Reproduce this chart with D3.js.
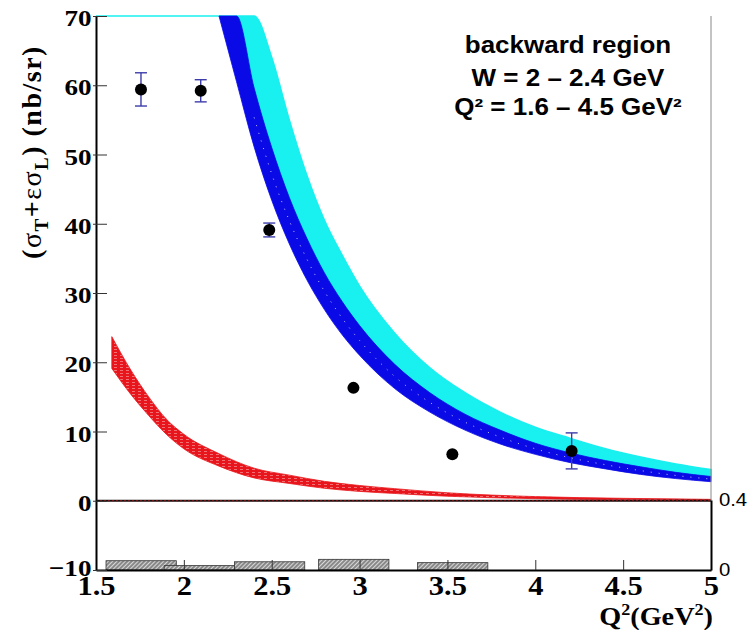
<!DOCTYPE html>
<html>
<head>
<meta charset="utf-8">
<script src="https://cdn.jsdelivr.net/npm/d3@7"></script>
<style>
  body { margin: 0; background: #fff; }
  svg { display: block; }
</style>
</head>
<body>
<svg id="chart" width="749" height="630"></svg>
<script>
// measured cross sections
const q2Points = [1.756, 2.096, 2.486, 2.965, 3.528, 4.207];
const xsecPoints = [59.4, 59.2, 39.1, 16.3, 6.7, 7.2];
const xsecErrors = [2.4, 1.6, 1.0, 0.4, 0.4, 2.6];

// systematic uncertainties (right-hand scale)
const sysQ2 = [1.757, 2.088, 2.488, 2.967, 3.53];
const sysValues = [0.053, 0.025, 0.047, 0.061, 0.042];
const sysHalfWidth = 0.2;

// model bands (blue / cyan)
const bandQ2 = [1.5, 1.7, 1.9, 2.1, 2.2, 2.3, 2.4, 2.5, 2.6, 2.7, 2.8, 2.9, 3.0, 3.2, 3.4, 3.6, 3.8, 4.0, 4.2, 4.4, 4.6, 4.8, 5.0];
const blueLow = [null, null, null, null, 72.2, 60.5, 51.1, 43.4, 37.1, 31.9, 27.6, 24.0, 21.0, 16.2, 12.8, 10.2, 8.2, 6.7, 5.5, 4.6, 3.8, 3.2, 2.75];
const blueHigh = [null, null, null, null, 83.3, 70.1, 59.6, 51.0, 43.8, 37.9, 32.9, 28.8, 25.3, 19.7, 15.6, 12.5, 10.2, 8.3, 6.9, 5.8, 4.9, 4.1, 3.5];
const cyanLow = [290, 180, 120, 95, 83.3, 70.1, 59.6, 51.0, 43.8, 37.9, 32.9, 28.8, 25.3, 19.7, 15.6, 12.5, 10.2, 8.3, 6.9, 5.8, 4.9, 4.1, 3.5];
const cyanHigh = [380, 235, 155, 108, 92, 80, 72.3, 64, 55, 47, 40.5, 35.5, 31.0, 24.2, 19.2, 15.6, 12.8, 10.6, 9.0, 7.5, 6.3, 5.3, 4.5];

// red band
const redQ2 = [1.59, 1.7, 1.8, 1.9, 2.0, 2.2, 2.4, 2.6, 2.8, 3.0, 3.2, 3.5, 4.0, 4.5, 5.0];
const redLow = [19.1, 15.3, 12.3, 9.6, 7.5, 5.0, 3.3, 2.5, 1.8, 1.35, 1.05, 0.65, 0.3, 0.15, 0.08];
const redHigh = [23.7, 18.8, 15.0, 11.8, 9.6, 6.8, 4.7, 3.7, 2.8, 2.2, 1.75, 1.15, 0.6, 0.35, 0.2];

// axes
const xTicks = [1.5, 2, 2.5, 3, 3.5, 4, 4.5, 5];
const yTicks = [-10, 0, 10, 20, 30, 40, 50, 60, 70];
const rightTicks = [0, 0.4];

const serif = "'Liberation Serif', 'Times New Roman', serif";
const sans = "'Liberation Sans', Arial, sans-serif";
const stretch = "scale(1.13,1)";

const svg = d3.select("#chart");

const x = d3.scaleLinear().domain([1.5, 5]).range([96, 711]);
const y = d3.scaleLinear().domain([-10, 70]).range([570, 16]);
const yR = d3.scaleLinear().domain([0, 0.4]).range([570, 500]);
const clampY = v => y(Math.max(-10, Math.min(70, v)));

// patterns
const defs = svg.append("defs");
const redPat = defs.append("pattern")
  .attr("id", "redHatch").attr("patternUnits", "userSpaceOnUse")
  .attr("width", 6).attr("height", 3);
redPat.append("rect").attr("width", 6).attr("height", 3).attr("fill", "#e8161c");
redPat.append("line").attr("x1", 0).attr("x2", 3).attr("y1", 1.5).attr("y2", 1.5)
  .attr("stroke", "#fff").attr("stroke-width", 0.7).attr("opacity", 0.55);

const grayPat = defs.append("pattern")
  .attr("id", "grayHatch").attr("patternUnits", "userSpaceOnUse")
  .attr("width", 3).attr("height", 3).attr("patternTransform", "rotate(45)");
grayPat.append("rect").attr("width", 3).attr("height", 3).attr("fill", "#d8d8d8");
grayPat.append("line").attr("x1", 1).attr("x2", 1).attr("y1", 0).attr("y2", 3)
  .attr("stroke", "#555").attr("stroke-width", 1.2);

// band helper
const band = (xs, lo, hi) => d3.area()
  .defined((d, i) => lo[i] != null)
  .x((d, i) => x(xs[i]))
  .y0((d, i) => clampY(lo[i]))
  .y1((d, i) => clampY(hi[i]))
  .curve(d3.curveMonotoneX);

// red band
svg.append("path")
  .datum(redQ2)
  .attr("d", band(redQ2, redLow, redHigh))
  .attr("fill", "url(#redHatch)")
  .attr("stroke", "#e8161c").attr("stroke-width", 0.8);

// cyan band
svg.append("path")
  .datum(bandQ2)
  .attr("d", band(bandQ2, cyanLow, cyanHigh))
  .attr("fill", "#19f0f0")
  .attr("stroke", "#19f0f0").attr("stroke-width", 1.6);

// blue band
svg.append("path")
  .datum(bandQ2)
  .attr("d", band(bandQ2, blueLow, blueHigh))
  .attr("fill", "#0a0ae6")
  .attr("stroke", "#0a0ae6").attr("stroke-width", 0.8);

// dotted texture inside the blue band
svg.append("path")
  .datum(bandQ2)
  .attr("d", d3.line()
    .defined((d, i) => blueLow[i] != null && blueHigh[i] < 70)
    .x((d, i) => x(bandQ2[i]))
    .y((d, i) => clampY((blueLow[i] + blueHigh[i]) / 2))
    .curve(d3.curveMonotoneX))
  .attr("fill", "none")
  .attr("stroke", "#fff").attr("stroke-width", 1)
  .attr("stroke-dasharray", "1,7").attr("opacity", 0.75);

// zero line
svg.append("line")
  .attr("x1", x(1.5)).attr("x2", x(5)).attr("y1", y(0)).attr("y2", y(0))
  .attr("stroke", "#111").attr("stroke-width", 2);
svg.append("line")
  .attr("x1", x(1.5)).attr("x2", x(5)).attr("y1", y(0)).attr("y2", y(0))
  .attr("stroke", "#a01010").attr("stroke-width", 1.2).attr("stroke-dasharray", "2,2");

// systematic boxes
svg.selectAll(".sys")
  .data(sysQ2)
  .join("rect")
  .attr("class", "sys")
  .attr("x", d => x(d - sysHalfWidth))
  .attr("width", d => x(d + sysHalfWidth) - x(d - sysHalfWidth))
  .attr("y", (d, i) => yR(sysValues[i]))
  .attr("height", (d, i) => yR(0) - yR(sysValues[i]))
  .attr("fill", "url(#grayHatch)")
  .attr("stroke", "#333").attr("stroke-width", 0.8);

// error bars
const errColor = "#3c3cab";
const pts = q2Points.map((q, i) => ({ q, v: xsecPoints[i], e: xsecErrors[i] }));
const errG = svg.append("g").attr("stroke", errColor).attr("stroke-width", 1.4);
pts.forEach(d => {
  const top = y(d.v + d.e), bot = y(d.v - d.e), cx = x(d.q);
  if (bot - top < 13) return;
  errG.append("line").attr("x1", cx).attr("x2", cx).attr("y1", top).attr("y2", bot);
  errG.append("line").attr("x1", cx - 6).attr("x2", cx + 6).attr("y1", top).attr("y2", top);
  errG.append("line").attr("x1", cx - 6).attr("x2", cx + 6).attr("y1", bot).attr("y2", bot);
});

svg.selectAll(".pt")
  .data(pts)
  .join("circle")
  .attr("class", "pt")
  .attr("cx", d => x(d.q))
  .attr("cy", d => y(d.v))
  .attr("r", 6)
  .attr("fill", "#000");

// right frame (upper part)
svg.append("line")
  .attr("x1", x(5)).attr("x2", x(5)).attr("y1", y(70)).attr("y2", y(0))
  .attr("stroke", "#888").attr("stroke-width", 1);

// x axis
const xAxis = d3.axisBottom(x)
  .tickValues(xTicks)
  .tickSizeInner(-10)
  .tickSizeOuter(0)
  .tickPadding(6)
  .tickFormat(d3.format(""));
const gx = svg.append("g").attr("transform", `translate(0,${y(-10)})`).call(xAxis);
gx.select(".domain").attr("stroke", "#000").attr("stroke-width", 2);
gx.selectAll(".tick line").attr("stroke", "#333").attr("stroke-width", 1);
gx.selectAll(".tick text")
  .attr("transform", stretch)
  .style("font-family", serif).style("font-size", "27px").style("font-weight", "bold")
  .attr("fill", "#000");

// y axis
const yAxis = d3.axisLeft(y)
  .tickValues(yTicks)
  .tickSizeInner(-11)
  .tickSizeOuter(0)
  .tickPadding(4)
  .tickFormat(d3.format(""));
const gy = svg.append("g").attr("transform", `translate(${x(1.5)},0)`).call(yAxis);
gy.select(".domain").attr("stroke", "#000").attr("stroke-width", 2);
gy.selectAll(".tick line").attr("x1", -3).attr("stroke", "#333").attr("stroke-width", 1);
gy.selectAll(".tick text")
  .attr("transform", stretch)
  .attr("dy", d => d === -10 ? "0.22em" : "0.4em")
  .style("font-family", serif).style("font-size", "24px").style("font-weight", "bold")
  .attr("fill", "#000");

// right axis for the systematic panel
const rAxis = d3.axisRight(yR)
  .tickValues(rightTicks)
  .tickSize(0)
  .tickPadding(7)
  .tickFormat(d3.format(""));
const gr = svg.append("g").attr("transform", `translate(${x(5)},0)`).call(rAxis);
gr.select(".domain").attr("stroke", "#000").attr("stroke-width", 2);
gr.selectAll(".tick text")
  .attr("transform", stretch)
  .style("font-family", sans).style("font-size", "18px")
  .attr("fill", "#000");

// axis titles
const yTitle = svg.append("text")
  .attr("transform", "translate(41,152) rotate(-90)")
  .attr("text-anchor", "middle")
  .style("font-family", serif).style("font-size", "28px").style("font-weight", "bold")
  .style("letter-spacing", "1.5px")
  .attr("fill", "#000");
yTitle.append("tspan").text("(");
yTitle.append("tspan").style("font-weight", "normal").text("σ");
yTitle.append("tspan").attr("dy", 7).style("font-size", "19px").text("T");
yTitle.append("tspan").attr("dy", -7).text("+");
yTitle.append("tspan").style("font-weight", "normal").text("εσ");
yTitle.append("tspan").attr("dy", 7).style("font-size", "19px").text("L");
yTitle.append("tspan").attr("dy", -7).text(")  (nb/sr)");

const xTitle = svg.append("text")
  .attr("transform", `translate(${x(5) + 2},625) ${stretch}`)
  .attr("text-anchor", "end")
  .style("font-family", serif).style("font-size", "25px").style("font-weight", "bold")
  .attr("fill", "#000");
xTitle.append("tspan").text("Q");
xTitle.append("tspan").attr("dy", -10).style("font-size", "16px").text("2");
xTitle.append("tspan").attr("dy", 10).text("(GeV");
xTitle.append("tspan").attr("dy", -10).style("font-size", "16px").text("2");
xTitle.append("tspan").attr("dy", 10).text(")");

// annotation
const labelLines = ["backward region", "W = 2 – 2.4 GeV", "Q² = 1.6 – 4.5 GeV²"];
const labelBaselines = [53, 86, 115];
svg.append("g")
  .selectAll("text")
  .data(labelLines)
  .join("text")
  .attr("transform", (d, i) => `translate(568,${labelBaselines[i]}) ${stretch}`)
  .attr("text-anchor", "middle")
  .style("font-family", sans).style("font-size", "23px").style("font-weight", "bold")
  .attr("fill", "#000")
  .text(d => d);
</script>
</body>
</html>
